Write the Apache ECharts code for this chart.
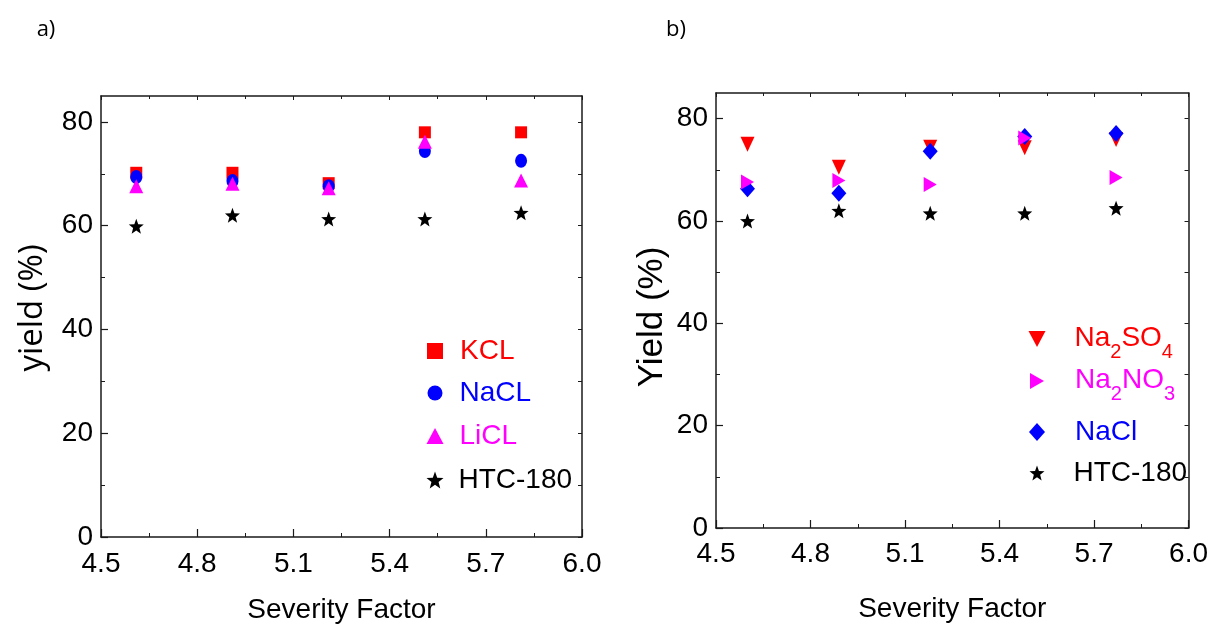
<!DOCTYPE html>
<html>
<head>
<meta charset="utf-8">
<script src="https://cdn.jsdelivr.net/npm/echarts@6/dist/echarts.min.js"></script>
<style>
html,body{margin:0;padding:0;background:#fff;}
#c{width:1211px;height:629px;}
</style>
</head>
<body>
<div id="c"></div>
<script>
// ---- data ----
const xTicks = [4.5, 4.8, 5.1, 5.4, 5.7, 6.0];
const yTicks = [0, 20, 40, 60, 80];
const yMinorTicks = [10, 30, 50, 70];

// panel a
const aX = [4.61, 4.91, 5.21, 5.51, 5.81];
const kclA = [70.2, 70.2, 68.2, 78.0, 78.0];
const naclA = [69.4, 68.6, 67.6, 74.4, 72.5];
const liclA = [67.6, 68.1, 67.2, 76.2, 68.7];
const htcA = [59.9, 62.0, 61.3, 61.3, 62.5];

// panel b
const bX = [4.60, 4.89, 5.18, 5.48, 5.77];
const na2so4B = [75.0, 70.5, 74.4, 74.3, 75.9];
const na2no3B = [67.6, 67.9, 67.1, 76.2, 68.5];
const naclB = [66.3, 65.4, 73.6, 76.5, 77.1];
const htcB = [60.0, 62.0, 61.5, 61.5, 62.5];

const FONT = "'Liberation Sans', Arial, sans-serif";
const AX = '#1a1a1a';
const STAR = 'path://M50,0 L62.3,33 L97.6,34.5 L70,56.5 L79.4,90.5 L50,71 L20.6,90.5 L30,56.5 L2.4,34.5 L37.7,33 Z';
const DOWN = 'path://M0,0 L10,0 L5,10 Z';
const RIGHT = 'path://M0,0 L10,5 L0,10 Z';

function pts(xs, ys){ return xs.map((x,i)=>[x, ys[i]]); }

const grids = [
  {left:101, top:96, width:481, height:443},
  {left:716, top:93, width:474, height:435}
];

const xAxes = [], yAxes = [];
[0,1].forEach(g=>{
  xAxes.push({
    type:'value', gridIndex:g, position:'bottom', min:4.5, max:6.0, interval:0.3,
    axisLine:{show:true, onZero:false, lineStyle:{color:AX, width:1.5}},
    axisTick:{show:true, inside:true, length:8, lineStyle:{color:AX, width:1.2}},
    minorTick:{show:true, splitNumber:2, length:4, lineStyle:{color:AX, width:1}},
    axisLabel:{show:true, margin: g===0 ? 13 : 12, fontSize:28, color:'#000', fontFamily:FONT,
      formatter:v=>Number(v).toFixed(1)},
    splitLine:{show:false},
    name:'Severity Factor', nameLocation:'middle', nameGap: g===0 ? 59 : 67,
    nameTextStyle:{fontSize:28, color:'#000', fontFamily:FONT}
  });
  xAxes.push({
    type:'value', gridIndex:g, position:'top', min:4.5, max:6.0, interval:0.3,
    axisLine:{show:true, onZero:false, lineStyle:{color:AX, width:1.5}},
    axisTick:{show:true, inside:true, length:4, lineStyle:{color:AX, width:1}},
    minorTick:{show:true, splitNumber:2, length:3, lineStyle:{color:AX, width:1}},
    axisLabel:{show:false}, splitLine:{show:false}
  });
  yAxes.push({
    type:'value', gridIndex:g, position:'left', min:0, max:85, interval:20,
    axisLine:{show:true, onZero:false, lineStyle:{color:AX, width:1.5}},
    axisTick:{show:true, inside:true, length:7, customValues:yTicks, lineStyle:{color:AX, width:1.2}},
    axisLabel:{show:true, margin:8, fontSize:28, color:'#000', fontFamily:FONT, customValues:yTicks,
      formatter:v=> (v%20===0 ? String(v) : '')},
    splitLine:{show:false}
  });
  yAxes.push({
    type:'value', gridIndex:g, position:'left', min:0, max:85,
    axisLine:{show:false},
    axisTick:{show:true, inside:true, length:4, customValues:yMinorTicks, lineStyle:{color:AX, width:1}},
    axisLabel:{show:false}, splitLine:{show:false}
  });
  yAxes.push({
    type:'value', gridIndex:g, position:'right', min:0, max:85,
    axisLine:{show:true, onZero:false, lineStyle:{color:AX, width:1.5}},
    axisTick:{show:true, inside:true, length:4, customValues:yTicks.concat(yMinorTicks), lineStyle:{color:AX, width:1}},
    axisLabel:{show:false}, splitLine:{show:false}
  });
});

function sc(name, g, data, symbol, size, color){
  return {type:'scatter', name, xAxisIndex:g*2, yAxisIndex:g*3, data,
    symbol, symbolSize:size, symbolKeepAspect:false,
    itemStyle:{color, opacity:1}, emphasis:{disabled:true}, silent:true};
}

const series = [
  sc('HTC-180', 0, pts(aX, htcA), STAR, 15, '#000'),
  sc('KCL', 0, pts(aX, kclA), 'rect', [12,12], '#ff0000'),
  sc('NaCL', 0, pts(aX, naclA), 'circle', [12,14], '#0000ff'),
  sc('LiCL', 0, pts(aX, liclA), 'triangle', [14,14], '#ff00ff'),
  sc('HTC-180 ', 1, pts(bX, htcB), STAR, 15, '#000'),
  sc('Na2SO4', 1, pts(bX, na2so4B), DOWN, [14,15], '#ff0000'),
  sc('NaCl', 1, pts(bX, naclB), 'diamond', [15,17], '#0000ff'),
  sc('Na2NO3', 1, pts(bX, na2no3B), RIGHT, [13,15], '#ff00ff')
];

function leg(name, cx, cy, color, w, h, pad, fmt){
  const lg = {
    data:[name], left: cx - w/2, top: cy - 15, orient:'vertical',
    itemWidth:w, itemHeight:h, selectedMode:false, symbolKeepAspect:false,
    textStyle:{fontSize:28, color, fontFamily:FONT, lineHeight:30, padding:[0,0,0,pad]}
  };
  if (fmt) {
    lg.formatter = fmt;
    lg.textStyle.rich = {
      n:{fontSize:28, color, fontFamily:FONT, lineHeight:30, verticalAlign:'top'},
      s:{fontSize:20, color, fontFamily:FONT, lineHeight:20, verticalAlign:'top', padding:[18,0,0,0]}
    };
    lg.top = cy - 19;
  }
  return lg;
}

const legends = [
  leg('KCL', 430, 346, '#ff0000', 16, 16, 12),
  leg('NaCL', 430, 388, '#0000ff', 15, 17, 12),
  leg('LiCL', 430, 431, '#ff00ff', 17, 16, 11),
  leg('HTC-180', 430, 475, '#000000', 17, 17, 10),
  leg('Na2SO4', 1032, 338, '#ff0000', 17, 16, 24, ()=>'{n|Na}{s|2}{n|SO}{s|4}'),
  leg('Na2NO3', 1032, 380, '#ff00ff', 14, 16, 26, ()=>'{n|Na}{s|2}{n|NO}{s|3}'),
  leg('NaCl', 1032, 427, '#0000ff', 16, 18, 25),
  leg('HTC-180 ', 1032, 468, '#000000', 15, 15, 24)
];
legends[7].formatter = ()=>'HTC-180';

const graphic = [
  {type:'text', x:46, y:30, style:{text:'a)', fontSize:22, fill:'#000', fontFamily:"'Open Sans', sans-serif", align:'center', verticalAlign:'middle'}},
  {type:'text', x:676, y:30, style:{text:'b)', fontSize:22, fill:'#000', fontFamily:"'Open Sans', sans-serif", align:'center', verticalAlign:'middle'}},
  {type:'text', x:33, y:308, rotation:Math.PI/2, style:{text:'yield (%)', fontSize:33, fill:'#000', fontFamily:"'Open Sans', sans-serif", align:'center', verticalAlign:'middle'}},
  {type:'text', x:652, y:317, rotation:Math.PI/2, style:{text:'Yield (%)', fontSize:35, fill:'#000', fontFamily:FONT, align:'center', verticalAlign:'middle'}}
];

const chart = echarts.init(document.getElementById('c'), null, {renderer:'canvas'});
chart.setOption({
  animation:false,
  backgroundColor:'#fff',
  grid:grids, xAxis:xAxes, yAxis:yAxes, series, legend:legends, graphic
});
</script>
</body>
</html>
